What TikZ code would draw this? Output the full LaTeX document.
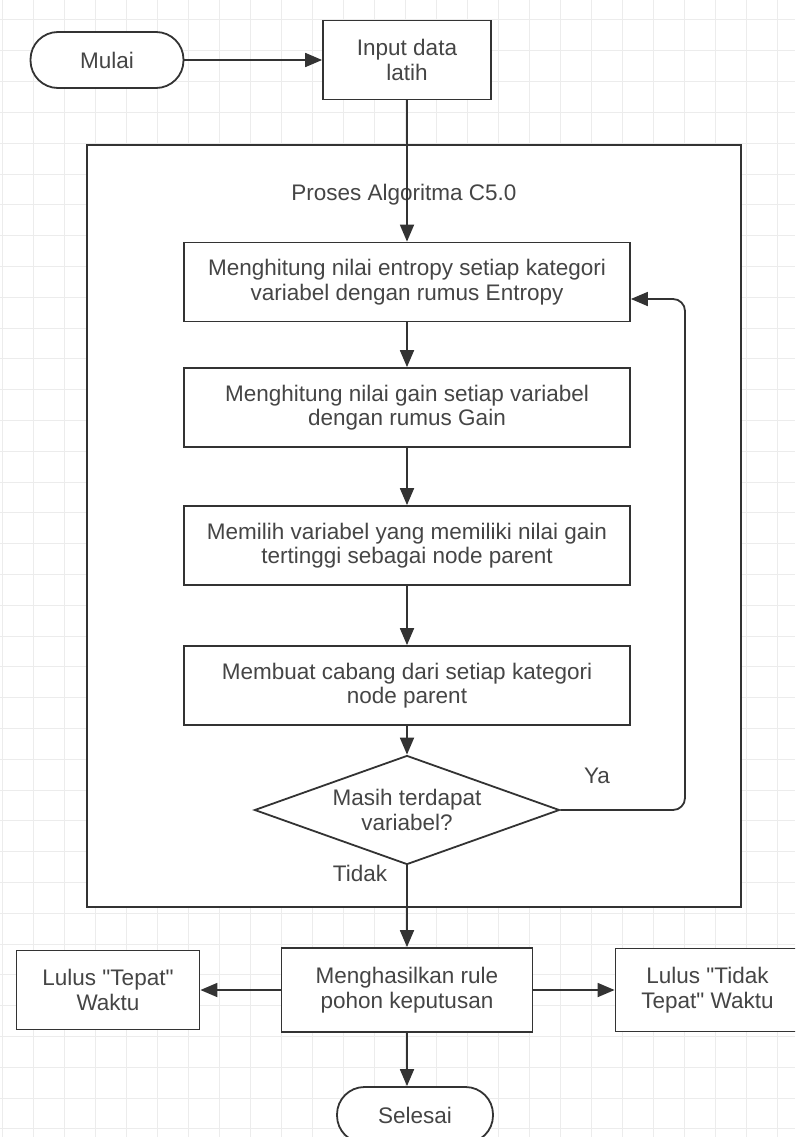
\documentclass[tikz,border=0pt]{standalone}
\usepackage{fontspec}
\setmainfont{Liberation Sans}
\usetikzlibrary{positioning,shapes.geometric,arrows.meta}
\definecolor{linegray}{HTML}{333333}
\definecolor{textgray}{HTML}{454545}
\definecolor{gridgray}{HTML}{ECECEC}
% straight double quote, not turned into a curly one
\newcommand{\dq}{\XeTeXglyph\XeTeXcharglyph"0022\relax}
\begin{document}
\begin{tikzpicture}[x=1pt,y=-1pt,>={Triangle[length=17pt,width=14pt]},
    every node/.style={font=\fontsize{22.5}{24.5}\selectfont,text=textgray,align=center},
    stepbox/.style={draw=linegray,line width=1.8pt,fill=white,rectangle,minimum width=446pt,minimum height=79pt,inner sep=0pt},
    terminal/.style={draw=linegray,line width=1.8pt,fill=white,rectangle,rounded corners=27.5pt,minimum width=153pt,minimum height=56pt},
    decision/.style={draw=linegray,line width=1.8pt,fill=white,diamond,aspect=2.8,minimum width=305pt,minimum height=109pt,inner sep=0pt},
    container/.style={draw=linegray,line width=1.8pt,fill=white,rectangle,minimum width=654pt,minimum height=762pt},
    flow/.style={draw=linegray,line width=1.8pt,->},
    gridline/.style={draw=gridgray,line width=1pt}]
    \useasboundingbox (0,0) rectangle (795,1137);
    \clip (0,0) rectangle (795,1137);
    \fill [white] (0,0) rectangle (795,1137);
    % background grid
    \foreach \gx in {2,33,...,795} \draw [gridline] (\gx,0) -- (\gx,1137);
    \foreach \gy in {20,50.8,...,1137} \draw [gridline] (0,\gy) -- (795,\gy);
    \node [container] (proses) at (414,526) {};
    \node (proseslabel) at (404,195) {Proses Algoritma C5.0};
    \node [terminal] (mulai) at (107,60) {Mulai};
    \node [stepbox, minimum width=168pt, right of=mulai, node distance=300pt] (input) {Input data\\latih};
    \node [stepbox] (entropy) at (407,282) {Menghitung nilai entropy setiap kategori\\variabel dengan rumus Entropy};
    \node [stepbox, below of=entropy, node distance=125.5pt] (gain) {Menghitung nilai gain setiap variabel\\dengan rumus Gain};
    \node [stepbox, below of=gain, node distance=138pt] (pilih) {Memilih variabel yang memiliki nilai gain\\tertinggi sebagai node parent};
    \node [stepbox, below of=pilih, node distance=140pt] (cabang) {Membuat cabang dari setiap kategori\\node parent};
    \node [decision, below of=cabang, node distance=124.5pt] (cek) {Masih terdapat\\variabel?};
    \node [stepbox, minimum width=251pt, minimum height=84pt, below of=cek, node distance=180pt] (hasil) {Menghasilkan rule\\pohon keputusan};
    \node [stepbox, minimum width=183pt, left of=hasil, node distance=299pt] (tepat) {Lulus \dq Tepat\dq\\Waktu};
    \node [stepbox, minimum width=184pt, minimum height=83pt, right of=hasil, node distance=300.5pt] (tidaktepat) {Lulus \dq Tidak\\Tepat\dq\ Waktu};
    \node [terminal, minimum width=156pt, below of=hasil, node distance=125pt, xshift=8pt] (selesai) {Selesai};
    \node (ya) at (597,776) {Ya};
    \node (tidak) at (360,873) {Tidak};
    \coordinate (entropyin) at ([yshift=-17pt]entropy.east);
    \coordinate (loopx) at (685,0);
    \draw [flow] (mulai) -- (input);
    \draw [flow] (input) -- (entropy);
    \draw [flow] (entropy) -- (gain);
    \draw [flow] (gain) -- (pilih);
    \draw [flow] (pilih) -- (cabang);
    \draw [flow] (cabang) -- (cek);
    \draw [flow, rounded corners=12pt] (cek.east) -- (loopx |- cek.east) -- (loopx |- entropyin) -- (entropyin);
    \draw [flow] (cek) -- (hasil);
    \draw [flow] (hasil) -- (tepat);
    \draw [flow] (hasil) -- (tidaktepat);
    \draw [flow] (hasil.south) -- (hasil.south |- selesai.north);
\end{tikzpicture}
\end{document}
